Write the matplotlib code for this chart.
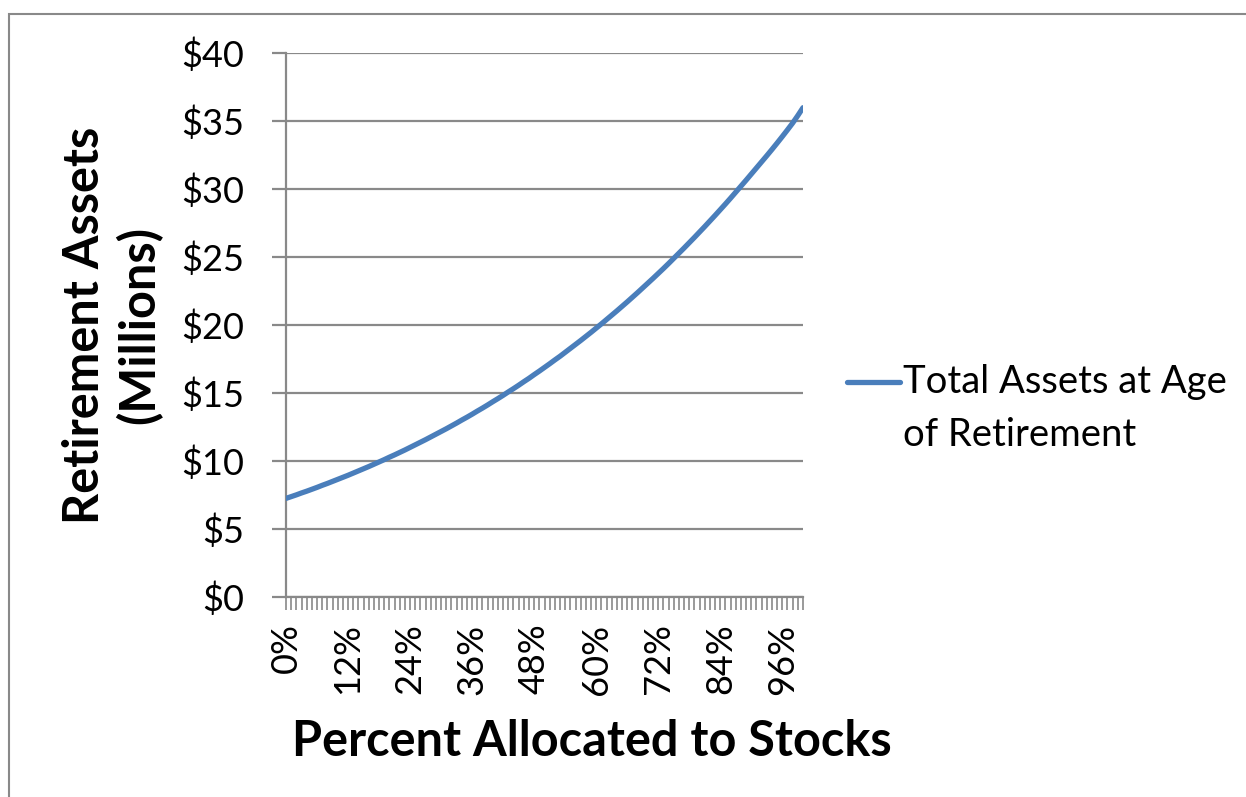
import matplotlib.pyplot as plt
from matplotlib.lines import Line2D
from matplotlib.patches import Rectangle

# percent of portfolio in stocks (one point per whole percent)
stock_pct = list(range(0, 101))

# total assets at retirement, $ millions
total_assets = [
    7.25, 7.38, 7.51, 7.65, 7.78, 7.92, 8.06, 8.21, 8.35, 8.50,
    8.65, 8.80, 8.95, 9.11, 9.27, 9.43, 9.59, 9.76, 9.93, 10.10,
    10.28, 10.45, 10.63, 10.81, 11.00, 11.19, 11.38, 11.57, 11.77, 11.97,
    12.17, 12.37, 12.58, 12.79, 13.01, 13.22, 13.44, 13.67, 13.89, 14.12,
    14.36, 14.59, 14.83, 15.08, 15.32, 15.57, 15.83, 16.08, 16.35, 16.61,
    16.88, 17.15, 17.43, 17.70, 17.99, 18.28, 18.57, 18.86, 19.16, 19.46,
    19.77, 20.08, 20.40, 20.72, 21.04, 21.37, 21.70, 22.04, 22.38, 22.73,
    23.08, 23.43, 23.79, 24.15, 24.52, 24.90, 25.28, 25.66, 26.05, 26.44,
    26.84, 27.24, 27.65, 28.06, 28.48, 28.90, 29.33, 29.77, 30.21, 30.65,
    31.10, 31.55, 32.00, 32.45, 32.91, 33.38, 33.86, 34.35, 34.85, 35.40,
    35.98,
]

y_ticks = [0, 5, 10, 15, 20, 25, 30, 35, 40]
label_every = 12

grey = '#898989'
blue = '#4A7EBB'
font = 'Lato'

fig = plt.figure(figsize=(12.46, 7.97), dpi=100)
fig.patch.set_facecolor('white')
fig.add_artist(Rectangle((9 / 1246, -0.1), 1.2, 1.1 - 14 / 797,
                         transform=fig.transFigure, fill=False,
                         edgecolor=grey, linewidth=1.5))

ax = fig.add_axes([286 / 1246, 1 - 597 / 797, (803 - 286) / 1246, (597 - 53) / 797])
ax.plot(stock_pct, total_assets, color=blue, linewidth=3.8,
        solid_capstyle='round', zorder=3)

ax.set_xlim(0, 100)
ax.set_ylim(0, 40)
ax.set_yticks(y_ticks)
ax.set_yticklabels(['$%d' % v for v in y_ticks], fontsize=26, family=font)
ax.set_xticks(stock_pct)
ax.set_xticklabels(['%d%%' % p if p % label_every == 0 else '' for p in stock_pct],
                   rotation=90, fontsize=26, family=font)

ax.grid(axis='y', color=grey, linewidth=1.6)
ax.set_axisbelow(True)
for side in ['top', 'right']:
    ax.spines[side].set_visible(False)
for side in ['left', 'bottom']:
    ax.spines[side].set_color(grey)
    ax.spines[side].set_linewidth(1.6)
ax.tick_params(axis='x', length=9, width=1.2, color=grey, pad=10)
ax.tick_params(axis='y', length=10, width=1.6, color=grey, pad=20)

fig.text(112 / 1246, 1 - 325 / 797, 'Retirement Assets\n(Millions)',
         rotation=90, ha='center', va='center', fontsize=35,
         fontweight='bold', family=font, linespacing=1.2)
fig.text(592 / 1246, 1 - 742 / 797, 'Percent Allocated to Stocks',
         ha='center', va='center', fontsize=35, fontweight='bold', family=font)

# legend drawn by hand so the sample sits on the first text line
fig.add_artist(Line2D([847 / 1246, 900 / 1246], [1 - 382 / 797, 1 - 382 / 797],
                      transform=fig.transFigure, color=blue, linewidth=3.8,
                      solid_capstyle='round'))
fig.text(903 / 1246, 1 - 382 / 797, 'Total Assets at Age', ha='left',
         va='center', fontsize=27.5, family=font)
fig.text(903 / 1246, 1 - 435 / 797, 'of Retirement', ha='left',
         va='center', fontsize=27.5, family=font)

fig.savefig('out.png', dpi=100)
